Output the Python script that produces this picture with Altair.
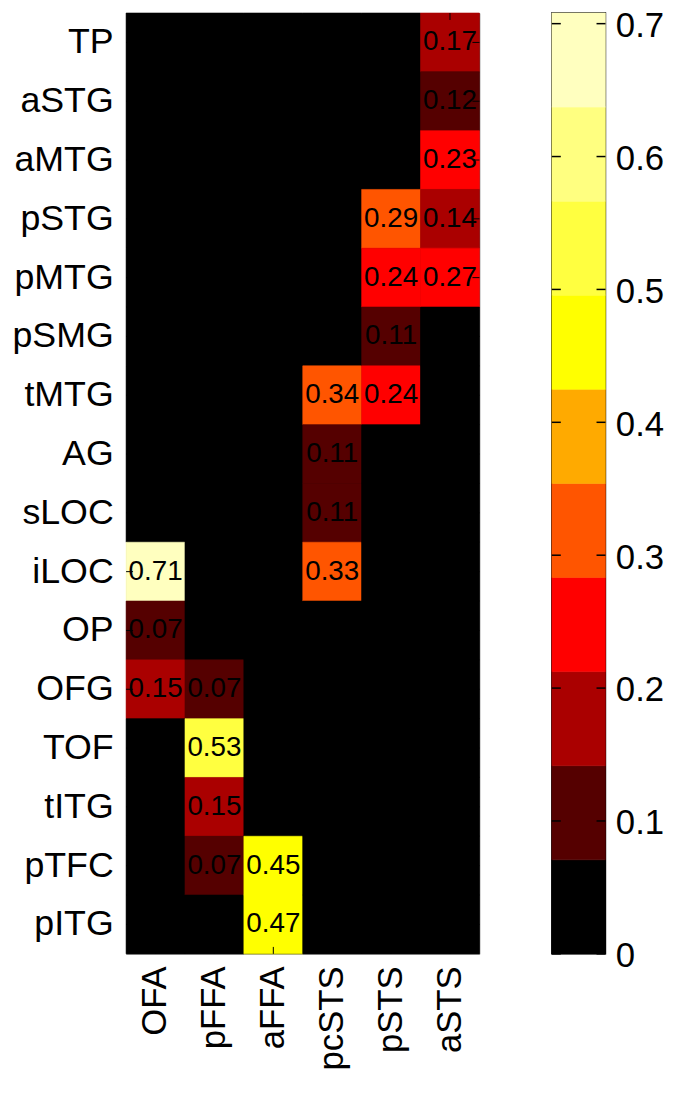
import altair as alt
import pandas as pd

rows = ["TP", "aSTG", "aMTG", "pSTG", "pMTG", "pSMG", "tMTG", "AG",
        "sLOC", "iLOC", "OP", "OFG", "TOF", "tITG", "pTFC", "pITG"]
cols = ["OFA", "pFFA", "aFFA", "pcSTS", "pSTS", "aSTS"]

# values per column, rows top to bottom
OFA = [0, 0, 0, 0, 0, 0, 0, 0, 0, 0.71, 0.07, 0.15, 0, 0, 0, 0]
pFFA = [0, 0, 0, 0, 0, 0, 0, 0, 0, 0, 0, 0.07, 0.53, 0.15, 0.07, 0]
aFFA = [0, 0, 0, 0, 0, 0, 0, 0, 0, 0, 0, 0, 0, 0, 0.45, 0.47]
pcSTS = [0, 0, 0, 0, 0, 0, 0.34, 0.11, 0.11, 0.33, 0, 0, 0, 0, 0, 0]
pSTS = [0, 0, 0, 0.29, 0.24, 0.11, 0.24, 0, 0, 0, 0, 0, 0, 0, 0, 0]
aSTS = [0.17, 0.12, 0.23, 0.14, 0.27, 0, 0, 0, 0, 0, 0, 0, 0, 0, 0, 0]
col_values = [OFA, pFFA, aFFA, pcSTS, pSTS, aSTS]

hot_colors = ["#000000", "#550000", "#aa0000", "#ff0000", "#ff5500",
              "#ffaa00", "#ffff00", "#ffff40", "#ffff80", "#ffffbf"]
cell_thresholds = [0.07, 0.14, 0.21, 0.28, 0.35, 0.42, 0.49, 0.56, 0.63]
cbar_edges = [0.0, 0.0708, 0.1416, 0.2124, 0.2832, 0.354, 0.4248,
              0.4956, 0.5664, 0.6372, 0.708]
cbar_ticks = [0, 0.1, 0.2, 0.3, 0.4, 0.5, 0.6, 0.7]

FONT = "Liberation Sans"
HW, HH = 356, 948
CW = 54

records = []
for c, vals in zip(cols, col_values):
    for r, v in zip(rows, vals):
        records.append({"col": c, "row": r, "value": v})
df = pd.DataFrame(records)

xs = alt.Scale(domain=cols, paddingInner=0, paddingOuter=0)
ys = alt.Scale(domain=rows, paddingInner=0, paddingOuter=0)
cell_scale = alt.Scale(type="threshold", domain=cell_thresholds, range=hot_colors)

base = alt.Chart(df).encode(
    x=alt.X("col:N", scale=xs, sort=cols,
            axis=alt.Axis(title=None, orient="bottom", labelAngle=-90,
                          labelAlign="right", labelBaseline="middle",
                          ticks=False, domain=False, grid=False, labelPadding=12,
                          labelFontSize=35, labelFont=FONT, labelColor="black")),
    y=alt.Y("row:N", scale=ys, sort=rows,
            axis=alt.Axis(title=None, ticks=False, domain=False, grid=False,
                          labelPadding=13, labelFontSize=36, labelFont=FONT,
                          labelColor="black")),
)

rect = base.mark_rect(strokeWidth=0.6).encode(
    color=alt.Color("value:Q", scale=cell_scale, legend=None),
    stroke=alt.Stroke("value:Q", scale=cell_scale, legend=None),
)
text = base.transform_filter("datum.value > 0").mark_text(
    font=FONT, fontSize=28, color="black"
).encode(text=alt.Text("value:Q", format=".2f"))

row_df = pd.DataFrame({"row": rows})
col_df = pd.DataFrame({"col": cols})
rtick_l = alt.Chart(row_df).mark_rule(color="black", strokeWidth=1).encode(
    y=alt.Y("row:N", scale=ys, sort=rows), x=alt.value(0), x2=alt.value(7))
rtick_r = alt.Chart(row_df).mark_rule(color="black", strokeWidth=1).encode(
    y=alt.Y("row:N", scale=ys, sort=rows), x=alt.value(HW - 7), x2=alt.value(HW))
ctick_t = alt.Chart(col_df).mark_rule(color="black", strokeWidth=1).encode(
    x=alt.X("col:N", scale=xs, sort=cols), y=alt.value(0), y2=alt.value(7))
ctick_b = alt.Chart(col_df).mark_rule(color="black", strokeWidth=1).encode(
    x=alt.X("col:N", scale=xs, sort=cols), y=alt.value(HH - 7), y2=alt.value(HH))

heat = alt.layer(rect, text, rtick_l, rtick_r, ctick_t, ctick_b).properties(
    width=HW, height=HH,
    view=alt.ViewBackground(stroke="#999999", strokeWidth=1, fill="black"),
)

cb_df = pd.DataFrame({"lo": cbar_edges[:-1], "hi": cbar_edges[1:], "color": hot_colors})
cys = alt.Scale(domain=[0, cbar_edges[-1]], nice=False, zero=True)
cb_rect = alt.Chart(cb_df).mark_rect(strokeWidth=0.6).encode(
    y=alt.Y("lo:Q", scale=cys,
            axis=alt.Axis(title=None, orient="right", values=cbar_ticks,
                          format=".1~f", ticks=False, domain=False, grid=False,
                          labelPadding=10, labelFontSize=35, labelFont=FONT,
                          labelOffset=2, labelColor="black")),
    y2="hi:Q",
    x=alt.value(0), x2=alt.value(CW),
    color=alt.Color("color:N", scale=None),
    stroke=alt.Stroke("color:N", scale=None),
)
tk_df = pd.DataFrame({"t": cbar_ticks})
cb_tl = alt.Chart(tk_df).mark_rule(color="black", strokeWidth=1.5).encode(
    y=alt.Y("t:Q", scale=cys), x=alt.value(0), x2=alt.value(9))
cb_tr = alt.Chart(tk_df).mark_rule(color="black", strokeWidth=1.5).encode(
    y=alt.Y("t:Q", scale=cys), x=alt.value(CW - 9), x2=alt.value(CW))
cbar = alt.layer(cb_rect, cb_tl, cb_tr).properties(
    width=CW, height=HH,
    view=alt.ViewBackground(stroke="black", strokeWidth=1.5),
)

chart = alt.hconcat(heat, cbar, spacing=70).properties(
    padding={"left": 3, "top": -5, "right": 0, "bottom": 0},
    background="white",
).configure_view(stroke=None)

chart.save("out.html", embed_options={"renderer": "svg", "actions": False})
